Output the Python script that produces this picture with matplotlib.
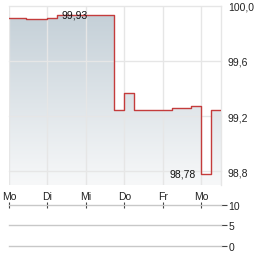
import numpy as np
import matplotlib
matplotlib.use("Agg")
import matplotlib.pyplot as plt
from matplotlib.colors import LinearSegmentedColormap

plt.rcParams['font.family'] = ['Liberation Sans', 'DejaVu Sans']

# ---- data ----
day_labels = ["Mo", "Di", "Mi", "Do", "Fr", "Mo"]
step_x = [0.0, 0.44, 1.0, 1.26, 2.74, 3.0, 3.26, 4.25, 4.74, 4.99, 5.26, 5.52]
step_y = [99.91, 99.90, 99.91, 99.93, 99.245, 99.37, 99.245, 99.26, 99.275, 98.78, 99.245, 99.245]
y_ticks = [98.8, 99.2, 99.6, 100.0]
y_tick_labels = ["98,8", "99,2", "99,6", "100,0"]
max_label = ("99,93", 1.72, 99.93)
min_label = ("98,78", 4.99, 98.78)
vol_ticks = [0, 5, 10]

W, H = 264, 255
fig = plt.figure(figsize=(W / 100, H / 100), dpi=100)

def ax_rect(l, t, r, b):
    return [l / W, 1 - b / H, (r - l) / W, (b - t) / H]

grid_c = '#e6e6e6'
text_c = '#222222'
line_c = '#c43c3c'
fs = 7.5

ax = fig.add_axes(ax_rect(9, 6.7, 221, 186))
xmin, xmax = 0, 5.52
ymin, ymax = 98.70, 100.0
ax.set_xlim(xmin, xmax)
ax.set_ylim(ymin, ymax)

# gradient fill under the step line
xs, ys = [], []
for i in range(len(step_x) - 1):
    xs += [step_x[i], step_x[i + 1]]
    ys += [step_y[i], step_y[i]]
poly_x = [xs[0]] + xs + [xs[-1]]
poly_y = [ymin] + ys + [ymin]
cmap = LinearSegmentedColormap.from_list('g', ['#f7f8f9', '#c2ced6'])
grad = np.linspace(0, 1, 256).reshape(-1, 1)
im = ax.imshow(grad, extent=[xmin, xmax, ymin, ymax], origin='lower',
               aspect='auto', cmap=cmap, zorder=1)
patch = plt.Polygon(list(zip(poly_x, poly_y)), closed=True,
                    facecolor='none', edgecolor='none')
ax.add_patch(patch)
im.set_clip_path(patch)

for d in range(len(day_labels)):
    ax.axvline(d, color=grid_c, lw=1.0, zorder=2)
for yt in y_ticks:
    ax.axhline(yt, color=grid_c, lw=1.0, zorder=2, clip_on=False)

ax.plot(step_x, step_y, drawstyle='steps-post', color=line_c, lw=1.0, zorder=3)

ax.annotate(max_label[0], (max_label[1], max_label[2]), xytext=(0, 1),
            textcoords='offset pixels', ha='center', va='center',
            fontsize=fs, color='#111111', zorder=4)
ax.annotate(min_label[0], (min_label[1], min_label[2]), xytext=(-5, 0),
            textcoords='offset pixels', ha='right', va='center',
            fontsize=fs, color='#111111', zorder=4)

ax.set_xticks(range(len(day_labels)))
ax.set_xticklabels(day_labels, fontsize=fs, color=text_c)
ax.tick_params(axis='x', length=0, pad=4)
ax.yaxis.tick_right()
ax.set_yticks(y_ticks)
ax.set_yticklabels(y_tick_labels, fontsize=fs, color=text_c)
ax.tick_params(axis='y', length=0, pad=5)
for s in ['top', 'left', 'bottom']:
    ax.spines[s].set_visible(False)
ax.spines['right'].set_color(grid_c)
ax.spines['right'].set_linewidth(1.0)

# ---- volume panel ----
ax2 = fig.add_axes(ax_rect(9, 205.7, 221, 247))
ax2.set_xlim(xmin, xmax)
ax2.set_ylim(0, 10)
for v in vol_ticks:
    ax2.axhline(v, color='#c8c8c8', lw=1.0, clip_on=False)
for s in ax2.spines.values():
    s.set_visible(False)
ax2.set_xticks(range(len(day_labels)))
ax2.tick_params(axis='x', bottom=False, top=True, labeltop=False,
                labelbottom=False, direction='inout', length=4,
                width=0.8, color='#444444')
ax2.yaxis.tick_right()
ax2.set_yticks(vol_ticks)
ax2.set_yticklabels([str(v) for v in vol_ticks], fontsize=fs, color=text_c)
ax2.tick_params(axis='y', length=4, width=0.8, color='#444444', pad=1.5)

fig.savefig('out.png', dpi=100)
